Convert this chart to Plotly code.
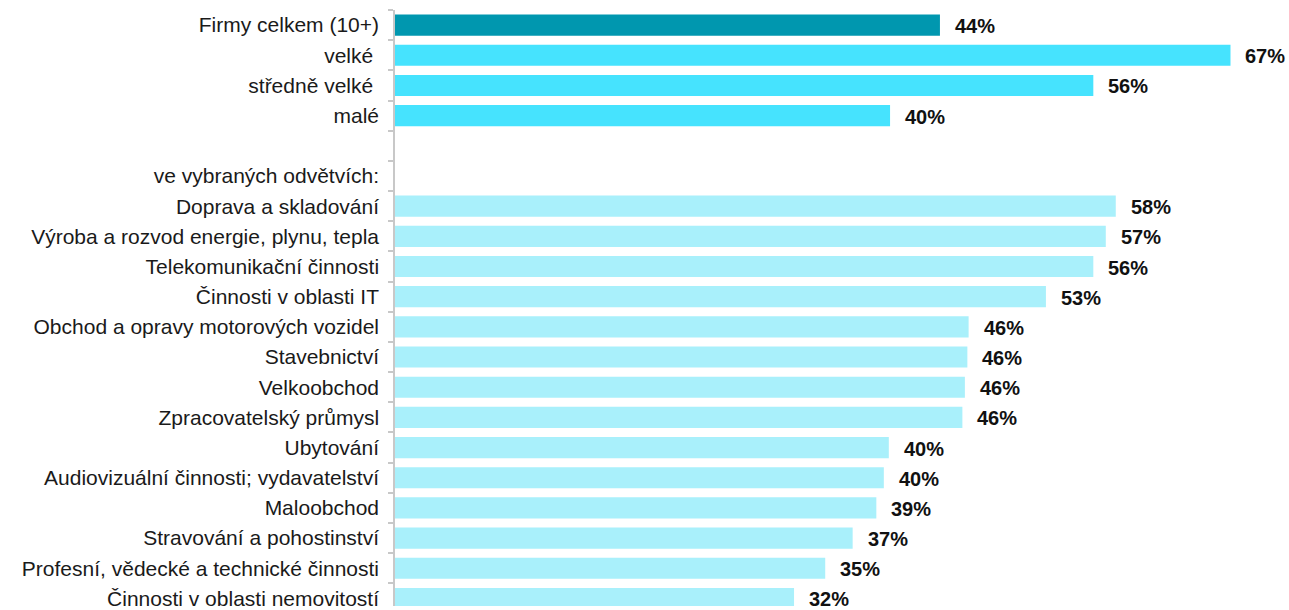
import plotly.graph_objects as go

categories = [
    "Firmy celkem (10+)",
    "velké\u00a0",
    "středně velké\u00a0",
    "malé",
    "\u200b",
    "ve vybraných odvětvích:",
    "Doprava a skladování",
    "Výroba a rozvod energie, plynu, tepla",
    "Telekomunikační činnosti",
    "Činnosti v oblasti IT",
    "Obchod a opravy motorových vozidel",
    "Stavebnictví",
    "Velkoobchod",
    "Zpracovatelský průmysl",
    "Ubytování",
    "Audiovizuální činnosti; vydavatelství",
    "Maloobchod",
    "Stravování a pohostinství",
    "Profesní, vědecké a technické činnosti",
    "Činnosti v oblasti nemovitostí",
]

values = [43.7, 67.0, 56.0, 39.7, None, None,
          57.8, 57.0, 56.0, 52.2, 46.0, 45.9, 45.7, 45.5,
          39.6, 39.2, 38.6, 36.7, 34.5, 32.0]

labels = ["44%", "67%", "56%", "40%", "", "",
          "58%", "57%", "56%", "53%", "46%", "46%", "46%", "46%",
          "40%", "40%", "39%", "37%", "35%", "32%"]

groups = ["total", "size", "size", "size", "", "",
          "sector", "sector", "sector", "sector", "sector", "sector", "sector",
          "sector", "sector", "sector", "sector", "sector", "sector", "sector"]

palette = {"total": "#0097AF", "size": "#46E3FE", "sector": "#A9F0FB", "": "#FFFFFF"}
colors = [palette[g] for g in groups]

FONT = "Liberation Sans, Arial, sans-serif"

fig = go.Figure()
fig.add_trace(go.Bar(
    y=categories,
    x=values,
    orientation="h",
    marker=dict(color=colors, line=dict(width=0)),
    width=0.7,
    hoverinfo="skip",
))

for cat, v, lab in zip(categories, values, labels):
    if v is None:
        continue
    fig.add_annotation(
        x=v, y=cat, text=f"<b>{lab}</b>", showarrow=False,
        xanchor="left", yanchor="middle", xshift=13, yshift=-1,
        font=dict(family=FONT, size=20, color="#111111"),
    )

px_per_unit = 12.47
plot_width = 1289 - 395

fig.update_layout(
    width=1289,
    height=610,
    margin=dict(l=395, r=0, t=10, b=0),
    plot_bgcolor="white",
    paper_bgcolor="white",
    showlegend=False,
    font=dict(family=FONT, size=21, color="#1a1a1a"),
    xaxis=dict(
        range=[0, plot_width / px_per_unit],
        visible=False,
        showgrid=False,
        zeroline=False,
    ),
    yaxis=dict(
        type="category",
        categoryorder="array",
        categoryarray=categories,
        range=[19.25, -0.5],
        showline=True,
        linecolor="#c8c8c8",
        linewidth=1.5,
        ticks="outside",
        ticklen=5,
        tickcolor="#c8c8c8",
        tickwidth=1.5,
        tickson="boundaries",
        showgrid=False,
        ticklabelstandoff=10,
        tickfont=dict(family=FONT, size=21, color="#1a1a1a"),
    ),
)

fig.write_html(
    "out.html",
    config={"displayModeBar": False},
    post_script=(
        "document.body.style.margin='0';"
        "document.documentElement.style.overflow='hidden';"
        "document.body.style.overflow='hidden';"
    ),
)
